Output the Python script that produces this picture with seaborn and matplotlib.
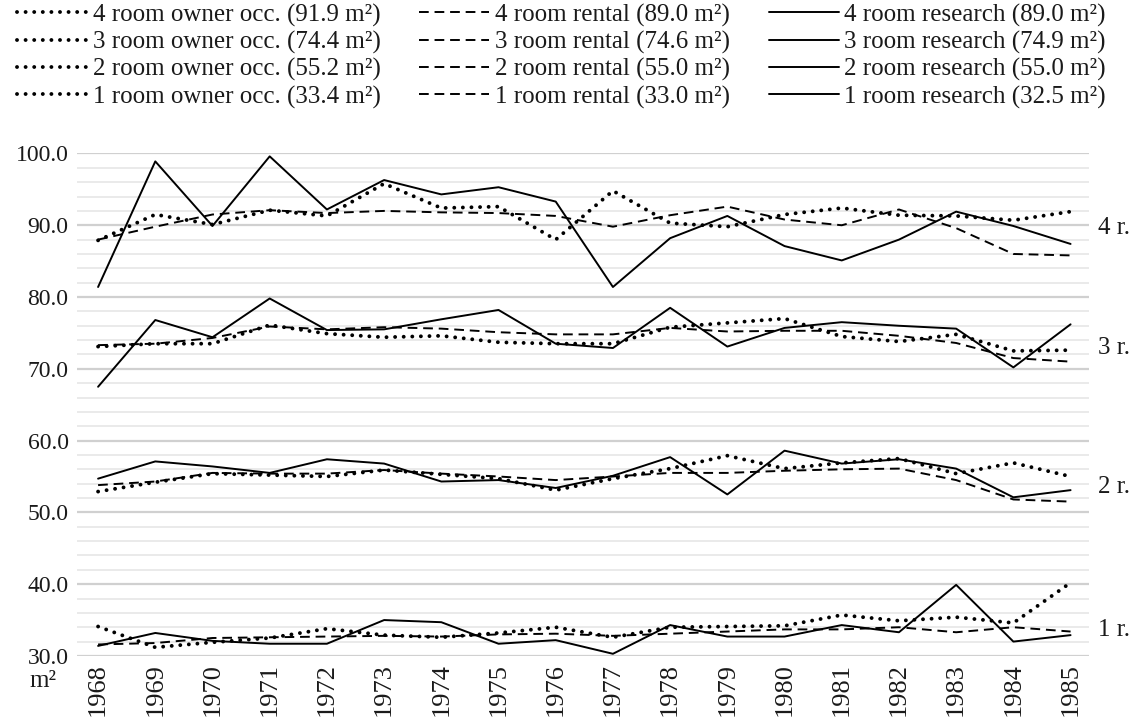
#!/usr/bin/env python3
"""Floor area per dwelling size, 1968-1985: owner occupied vs rental vs research."""

import matplotlib.pyplot as plt
import matplotlib.transforms as mtransforms
import pandas as pd
import seaborn as sns
from matplotlib.ticker import MultipleLocator

YEARS = list(range(1968, 1986))

# 4 rooms
OWNER_4 = [87.9, 91.5, 90.1, 92.1, 91.3, 95.8, 92.4, 92.6, 88.0, 94.8, 90.3, 89.8, 91.5, 92.4, 91.4, 91.3, 90.7, 91.9]
RENTAL_4 = [88.0, 89.8, 91.5, 92.1, 91.7, 92.0, 91.8, 91.7, 91.3, 89.8, 91.4, 92.6, 90.8, 90.0, 92.2, 89.6, 86.0, 85.8]
RESEARCH_4 = [81.4, 98.9, 89.9, 99.6, 92.2, 96.3, 94.3, 95.3, 93.3, 81.4, 88.2, 91.3, 87.1, 85.1, 88.0, 91.9, 89.9, 87.4]

# 3 rooms
OWNER_3 = [73.1, 73.5, 73.5, 76.1, 74.9, 74.4, 74.6, 73.7, 73.5, 73.5, 75.8, 76.4, 77.0, 74.5, 73.8, 74.8, 72.5, 72.6]
RENTAL_3 = [73.3, 73.5, 74.3, 75.9, 75.5, 75.8, 75.6, 75.1, 74.8, 74.8, 75.7, 75.2, 75.3, 75.3, 74.6, 73.6, 71.5, 71.0]
RESEARCH_3 = [67.5, 76.8, 74.4, 79.8, 75.4, 75.5, 76.9, 78.2, 73.5, 72.9, 78.5, 73.1, 75.7, 76.5, 76.0, 75.6, 70.2, 76.2]

# 2 rooms
OWNER_2 = [52.9, 54.2, 55.4, 55.2, 55.0, 55.9, 55.3, 54.7, 53.1, 54.7, 56.1, 57.9, 56.1, 56.9, 57.5, 55.4, 56.9, 55.0]
RENTAL_2 = [53.8, 54.3, 55.5, 55.4, 55.4, 55.9, 55.4, 55.0, 54.5, 55.0, 55.5, 55.5, 55.8, 56.0, 56.1, 54.5, 51.8, 51.5]
RESEARCH_2 = [54.7, 57.1, 56.4, 55.5, 57.4, 56.8, 54.3, 54.5, 53.4, 55.1, 57.7, 52.5, 58.6, 56.8, 57.4, 56.1, 52.1, 53.1]

# 1 room
OWNER_1 = [34.1, 31.2, 31.9, 32.5, 33.8, 32.9, 32.6, 33.2, 34.0, 32.6, 34.0, 34.1, 34.2, 35.7, 34.9, 35.4, 34.6, 40.2]
RENTAL_1 = [31.6, 31.8, 32.5, 32.6, 32.7, 32.8, 32.7, 33.0, 33.1, 32.8, 33.1, 33.4, 33.7, 33.7, 34.0, 33.3, 34.0, 33.4]
RESEARCH_1 = [31.4, 33.2, 32.1, 31.7, 31.7, 35.0, 34.7, 31.7, 32.2, 30.3, 34.3, 32.7, 32.7, 34.3, 33.3, 39.9, 32.0, 32.9]

ROOMS = [4, 3, 2, 1]
OWNER = [OWNER_4, OWNER_3, OWNER_2, OWNER_1]
RENTAL = [RENTAL_4, RENTAL_3, RENTAL_2, RENTAL_1]
RESEARCH = [RESEARCH_4, RESEARCH_3, RESEARCH_2, RESEARCH_1]

# means shown in the legend
OWNER_MEAN = ["91.9", "74.4", "55.2", "33.4"]
RENTAL_MEAN = ["89.0", "74.6", "55.0", "33.0"]
RESEARCH_MEAN = ["89.0", "74.9", "55.0", "32.5"]

ROOM_LABELS = ["4 r.", "3 r.", "2 r.", "1 r."]
ROOM_LABEL_Y = [89.6, 72.9, 53.5, 33.6]

SERIF = ["Liberation Serif", "DejaVu Serif"]
INK = "#1a1a1a"


def build_frame() -> pd.DataFrame:
    rows = []
    for room, own, ren, res in zip(ROOMS, OWNER, RENTAL, RESEARCH):
        for kind, vals in (("owner", own), ("rental", ren), ("research", res)):
            for year, v in zip(YEARS, vals):
                rows.append({"room": room, "kind": kind, "year": year, "area": v})
    return pd.DataFrame(rows)


def main():
    sns.set_theme(style="white")
    plt.rcParams["font.family"] = SERIF

    df = build_frame()

    fig = plt.figure(figsize=(11.48, 7.24), dpi=100)
    ax = fig.add_axes([0.067, 0.094, 0.882, 0.694])

    styles = {
        "owner": dict(linestyle=(0, (0.01, 2.2)), linewidth=2.8, dash_capstyle="round"),
        "rental": dict(linestyle=(0, (5, 3)), linewidth=1.4),
        "research": dict(linestyle="-", linewidth=1.4),
    }
    labels = {"owner": ("room owner occ.", OWNER_MEAN),
              "rental": ("room rental", RENTAL_MEAN),
              "research": ("room research", RESEARCH_MEAN)}

    # column-major order for a 3-column legend: owner, rental, research
    for kind in ("owner", "rental", "research"):
        text, means = labels[kind]
        for room, mean in zip(ROOMS, means):
            sub = df[(df["room"] == room) & (df["kind"] == kind)]
            sns.lineplot(data=sub, x="year", y="area", ax=ax, color="black",
                         label=f"{room} {text} ({mean} m²)", **styles[kind])

    ax.set_xlim(YEARS[0] - 0.37, YEARS[-1] + 0.33)
    ax.set_ylim(30, 100)
    ax.yaxis.set_major_locator(MultipleLocator(10))
    ax.yaxis.set_minor_locator(MultipleLocator(2))
    ax.yaxis.set_major_formatter(lambda v, _: f"{v:.1f}")
    ax.set_xticks(YEARS)
    ax.set_xticklabels([str(y) for y in YEARS], rotation=90)
    ax.grid(axis="y", which="major", color="#d0d0d0", linewidth=1.6, zorder=0)
    ax.grid(axis="y", which="minor", color="#e6e6e6", linewidth=1.2, zorder=0)
    ax.grid(axis="x", visible=False)
    ax.tick_params(axis="both", which="both", length=0, colors=INK)
    ax.tick_params(axis="y", labelsize=17, pad=6)
    ax.tick_params(axis="x", labelsize=19, pad=5)
    ax.set_xlabel("")
    ax.set_ylabel("")
    sns.despine(ax=ax, left=True, bottom=True)

    trans = mtransforms.blended_transform_factory(ax.transAxes, ax.transData)
    for lab, y in zip(ROOM_LABELS, ROOM_LABEL_Y):
        ax.text(1.008, y, lab, transform=trans, fontsize=18, va="center", ha="left", color=INK)

    fig.text(0.026, 0.059, "m²", fontsize=18, ha="left", va="center", color=INK)

    handles, leg_labels = ax.get_legend_handles_labels()
    ax.get_legend().remove()
    fig.legend(handles, leg_labels, loc="upper left", bbox_to_anchor=(0.002, 1.016), ncol=3,
               frameon=False, fontsize=18, handlelength=2.8, handletextpad=0.22,
               columnspacing=1.55, labelspacing=0.17, borderaxespad=0.2,
               labelcolor=INK)

    fig.savefig("out.png", dpi=100)


if __name__ == "__main__":
    main()
